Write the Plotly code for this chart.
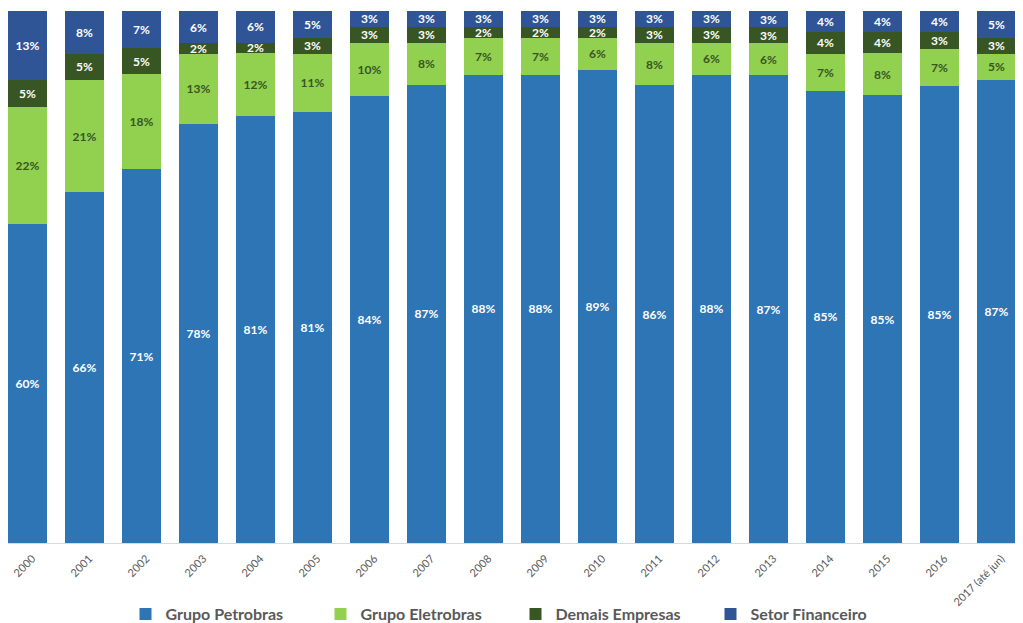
import plotly.graph_objects as go

years = ["2000", "2001", "2002", "2003", "2004", "2005", "2006", "2007", "2008",
         "2009", "2010", "2011", "2012", "2013", "2014", "2015", "2016", "2017 (até jun)"]
petrobras = [60, 66, 71, 78, 81, 81, 84, 87, 88, 88, 89, 86, 88, 87, 85, 85, 85, 87]
eletrobras = [22, 21, 18, 13, 12, 11, 10, 8, 7, 7, 6, 8, 6, 6, 7, 8, 7, 5]
demais = [5, 5, 5, 2, 2, 3, 3, 3, 2, 2, 2, 3, 3, 3, 4, 4, 3, 3]
financeiro = [13, 8, 7, 6, 6, 5, 3, 3, 3, 3, 3, 3, 3, 3, 4, 4, 4, 5]

series = [
    ("Grupo Petrobras", petrobras, "#2E75B6", "white"),
    ("Grupo Eletrobras", eletrobras, "#92D050", "#375623"),
    ("Demais Empresas", demais, "#375623", "white"),
    ("Setor Financeiro", financeiro, "#2F5597", "white"),
]

FONT = "Lato"
fig = go.Figure()
for name, vals, color, tcolor in series:
    fig.add_trace(go.Bar(
        x=years, y=vals, name=f"<b>{name}</b>",
        marker=dict(color=color, line=dict(width=0)),
        text=[f"<b>{v}%</b>" for v in vals],
        textposition="inside", insidetextanchor="middle",
        textangle=0,
        textfont=dict(color=tcolor, size=12, family=FONT),
        hoverinfo="skip",
    ))

fig.update_layout(
    barmode="stack", barnorm="percent", bargap=0.316,
    width=1015, height=615,
    margin=dict(l=0, r=0, t=3, b=80, autoexpand=False),
    plot_bgcolor="white", paper_bgcolor="white",
    uniformtext=dict(minsize=12, mode="show"),
    font=dict(family=FONT, color="#595959"),
    showlegend=True,
    legend=dict(orientation="h", x=0.5, xanchor="center",
                yref="container", y=1 - 606 / 615, yanchor="middle",
                font=dict(size=16, color="#595959", family=FONT),
                entrywidth=150, traceorder="normal"),
)
fig.update_xaxes(tickangle=-45, tickfont=dict(size=11, color="#595959"),
                 showline=True, linecolor="#D9D9D9", linewidth=1, ticks="",
                 ticklabelshift=5, ticklabelstandoff=4,
                 range=[-0.342, 17.465], automargin=False)
fig.update_yaxes(visible=False, range=[0, 100], automargin=False)

fig.write_html("out.html")
